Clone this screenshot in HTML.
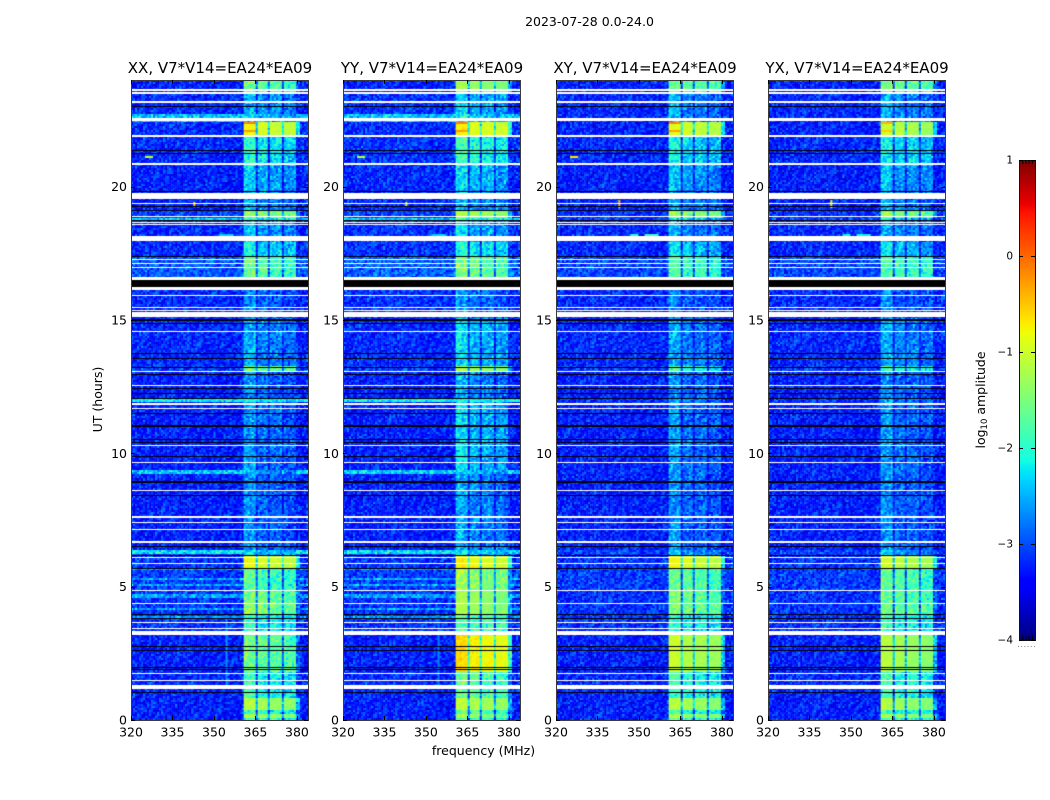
<!DOCTYPE html>
<html lang="en">
<head>
<meta charset="utf-8">
<title>2023-07-28 0.0-24.0</title>
<style>
html,body{margin:0;padding:0;background:#fff;}
#chart{position:relative;width:1050px;height:800px;overflow:hidden;background:#fff;font-family:"DejaVu Sans","Liberation Sans",sans-serif;}
canvas{position:absolute;display:block;}
svg{position:absolute;left:0;top:0;}
svg text{font-family:"DejaVu Sans","Liberation Sans",sans-serif;fill:#000;}
</style>
</head>
<body>
<div id="chart">
<svg id="overlay" width="1050" height="800"></svg>
</div>
<script>
// ---- figure text and axis ticks ----
const figureTitle = "2023-07-28 0.0-24.0";
const panelTitles = ["XX, V7*V14=EA24*EA09","YY, V7*V14=EA24*EA09","XY, V7*V14=EA24*EA09","YX, V7*V14=EA24*EA09"];
const freqTicks = [320,335,350,365,380];
const utTicks = [0,5,10,15,20];
const colorTicks = [-4,-3,-2,-1,0,1];

// ---- UT (hours): top edge of each time segment, descending ----
const segmentTopUT = [24,23.55,22.76,22.58,22.46,21.9,20.81,19.88,19.13,18.86,18.75,17.96,17.4,16.61,16.13,15.04,13.31,13.05,12.04,11.89,9.38,9.23,6.41,6.23,6.15,5.7,4.88,4.39,4.01,3.19,1.8,1.05,0.83,0.38,0.26,0.11];

// ---- log10 amplitude outside the band, per segment ----
const bgXX = [-3.25,-3.2,-2.4,-2.4,-3.2,-3.2,-3.25,-3.25,-3.1,-2.35,-3.2,-3.2,-2.95,-3.2,-3.2,-3.2,-3.1,-3.25,-2.2,-3.25,-2.4,-3.25,-2.25,-3.15,-3.15,-3.1,-3.15,-3.15,-3.15,-3.25,-3.2,-3.25,-3.25,-3.25,-3.25,-3.25];
const bgYY = [-3.25,-3.15,-2.4,-2.4,-3.2,-3.15,-3.2,-3.2,-3.1,-2.35,-3.15,-3.15,-2.9,-3.2,-3.15,-3.2,-3.1,-3.25,-2.15,-3.25,-2.35,-3.25,-2.25,-3.15,-3.15,-3.1,-3.15,-3.15,-3.15,-3.25,-3.2,-3.25,-3.25,-3.25,-3.25,-3.25];
const bgXY = [-3.25,-3.2,-3.2,-3.2,-3.25,-3.2,-3.25,-3.25,-3.15,-3.05,-3.2,-3.2,-3.05,-3.2,-3.2,-3.2,-3.1,-3.25,-3.15,-3.25,-3.2,-3.25,-3.05,-3.15,-3.15,-3.1,-3.15,-3.15,-3.15,-3.25,-3.2,-3.25,-3.25,-3.25,-3.25,-3.25];
const bgYX = [-3.25,-3.2,-3.2,-3.2,-3.25,-3.2,-3.25,-3.25,-3.15,-3.05,-3.2,-3.2,-3.05,-3.2,-3.2,-3.2,-3.1,-3.25,-3.15,-3.25,-3.2,-3.25,-3.05,-3.15,-3.15,-3.1,-3.15,-3.15,-3.15,-3.25,-3.2,-3.25,-3.25,-3.25,-3.25,-3.25];

// ---- log10 amplitude inside the 360-380 MHz band, per segment ----
const bandXX = [-1.7,-2.55,-2.4,-2.4,-0.95,-2.1,-2.45,-2.6,-1.45,-2,-2.5,-2.2,-1.75,-3.2,-2.8,-2.6,-1.6,-2.75,-2.1,-2.7,-2.5,-2.75,-2.3,-2.3,-0.95,-1.8,-1.6,-1.5,-2,-1.65,-2,-1.9,-1.25,-1.9,-1.3,-1.9];
const bandYY = [-1.35,-2.4,-2.25,-2.25,-0.85,-1.9,-2.35,-2.5,-1.25,-1.9,-2.4,-2.1,-1.6,-3.2,-2.7,-2.35,-1.3,-2.6,-2.05,-2.35,-2.4,-2.6,-2.3,-2.3,-0.85,-1.4,-1.35,-1.3,-1.8,-0.72,-1.75,-1.7,-1.2,-1.8,-1.4,-1.9];
const bandXY = [-1.65,-2.6,-2.55,-2.55,-1,-2.2,-2.5,-2.65,-1.4,-2.3,-2.6,-2.3,-1.85,-3.2,-2.8,-2.65,-1.9,-2.75,-2.65,-2.7,-2.7,-2.75,-2.5,-2.5,-0.95,-1.7,-1.6,-1.55,-2,-1.15,-1.9,-2,-1.25,-1.9,-1.3,-1.9];
const bandYX = [-1.65,-2.6,-2.55,-2.55,-1.15,-2.2,-2.5,-2.65,-1.5,-2.3,-2.6,-2.35,-1.85,-3.2,-2.8,-2.6,-1.9,-2.75,-2.65,-2.7,-2.7,-2.75,-2.5,-2.5,-1.1,-1.75,-1.7,-1.65,-1.95,-1.25,-1.9,-2,-1.3,-1.9,-1.3,-1.9];

// ---- the four sub-bands (MHz) and their relative amplitude ----
const subBandStart = [360.4,365.5,370.4,375.4];
const subBandEnd = [364.8,369.8,374.8,379.7];
const subBandStrong = [0.12,0,-0.08,-0.15];
const subBandWeak = [0.1,-0.12,-0.15,-0.25];

// ---- flagged (blank, drawn white) UT ranges [hi, lo] ----
const blankRanges = [[23.644,23.606],[23.561,23.475],[23.194,23.156],[22.58,22.463],[21.919,21.881],[20.869,20.831],[19.744,19.538],[19.388,19.35],[18.9,18.863],[18.675,18.638],[18.6,18.563],[18.15,17.963],[17.288,17.25],[17.138,17.1],[16.988,16.95],[16.613,16.5],[16.238,16.125],[15.938,15.9],[15.488,15.45],[15.375,15.338],[15.3,15.113],[14.588,14.55],[13.106,13.05],[12.563,12.525],[11.888,11.831],[11.7,11.663],[10.313,10.275],[9.675,9.638],[8.625,8.588],[7.65,7.575],[7.425,7.388],[7.163,7.125],[6.713,6.656],[6.113,6.075],[5.888,5.85],[4.875,4.838],[4.388,4.35],[3.675,3.638],[3.45,3.413],[3.338,3.188],[1.763,1.725],[1.5,1.463],[1.313,1.163]];

// ---- zero-amplitude (drawn black) UT ranges [hi, lo] ----
const zeroRanges = [[23.03,22.99],[21.38,21.34],[21.27,21.23],[19.856,19.8],[19.28,19.24],[19.11,19.07],[18.75,18.71],[17.4,17.36],[16.5,16.238],[15.02,14.98],[14.89,14.85],[13.76,13.73],[13.58,13.54],[13.24,13.2],[12.98,12.94],[12.45,12.41],[12.26,12.23],[12.08,12.04],[11.51,11.48],[11.063,11.006],[10.54,10.5],[10.43,10.39],[9.9,9.844],[8.963,8.906],[8.44,8.4],[6.53,6.49],[6.19,6.15],[5.7,5.66],[3.98,3.94],[3.83,3.79],[2.78,2.74],[2.64,2.61],[1.99,1.95],[1.91,1.88],[1.05,1.01]];

// ---- hot spots: panel, UT hi, UT lo, MHz lo, MHz hi, log10 amplitude ----
const hotPanel = [0,0,1,1,2,2,3,3,0,1,2,0,1,2,3,0,1,0,1,2,2,3,3];
const hotUtHi = [22.46,22.16,22.46,22.16,22.46,22.16,22.46,22.16,21.12,21.12,21.12,18.2,18.2,18.2,18.2,19.45,19.45,4,4,19.5,18.2,19.5,18.2];
const hotUtLo = [22.33,22.03,22.33,22.03,22.33,22.03,22.36,22.05,21.08,21.08,21.08,18.14,18.14,18.14,18.14,19.25,19.25,1.2,1.2,19.2,18.14,19.2,18.14];
const hotFreqLo = [360.4,360.4,360.4,360.4,360.4,360.4,360.4,360.4,325,325,325,352,352,352,352,342.7,342.7,354.3,354.3,342.7,347,342.7,347];
const hotFreqHi = [364.8,364.8,364.8,364.8,364.8,364.8,364.8,364.8,328,328,328,357,357,357,357,343.1,343.1,355,355,343.1,350,343.1,350];
const hotValue = [-0.15,-0.3,-0.15,-0.3,-0.15,-0.3,-0.4,-0.55,-1.1,-1.1,-0.7,-2.35,-2.35,-1.95,-2.15,-0.6,-1,-2.65,-2.75,-0.45,-2.05,-0.6,-2.2];

// ---- faint whole-row lines below 360 MHz (YY and XX early hours) ----
const faintRowsUT = [5.63,5.29,5.06,4.72,4.58,4.13,3.89];
const faintRowValue = -2.6;

// ---- fixed speckle tile (digit 0-9 = low to high residual) ----
const speckleTile = [
"73916048257136904825176392084",
"20584719362058147396025841793",
"96137052841697203584916270358",
"41760395827401659283740165928",
"85203916472859031647285903164",
"17648205936174820593617482059",
"59032781460592378146059237814",
"36871490253687149025368714902",
"02459637180245963718024596371",
"68120574936812057493681205749",
"24793186052479318605247931860",
"91340862579134086257913408625",
"47586013294758601329475860132"];
const speckleSpread = 0.52;

// ---- colour scale ----
const colorMin = -4;
const colorMax = 1;

// ---- layout ----
const plotW = 177, plotH = 640, plotTop = 80;
const plotLeftFirst = 131, plotStep = 212.33;
const cellCountX = 88, cellCountY = 320;
const freqMin = 320, freqMax = 384, utMin = 0, utMax = 24;

const bgByPanel = [bgXX,bgYY,bgXY,bgYX];
const bandByPanel = [bandXX,bandYY,bandXY,bandYX];

function xScale(mhz){ return (mhz-freqMin)/(freqMax-freqMin)*plotW; }
function yScale(ut){ return (utMax-ut)/(utMax-utMin)*plotH; }

function jet(t){
  t = Math.max(0,Math.min(1,t));
  function ramp(pts){
    for(let i=1;i<pts.length;i++){
      if(t<=pts[i][0]){
        const a=pts[i-1], b=pts[i];
        return a[1]+(b[1]-a[1])*(t-a[0])/(b[0]-a[0]);
      }
    }
    return pts[pts.length-1][1];
  }
  const r = ramp([[0,0],[0.35,0],[0.66,1],[0.89,1],[1,0.5]]);
  const g = ramp([[0,0],[0.125,0],[0.375,1],[0.64,1],[0.91,0],[1,0]]);
  const b = ramp([[0,0.5],[0.11,1],[0.34,1],[0.65,0],[1,0]]);
  return "rgb("+Math.round(r*255)+","+Math.round(g*255)+","+Math.round(b*255)+")";
}
function colorOf(v){ return jet((v-colorMin)/(colorMax-colorMin)); }

function segmentIndex(ut){
  let idx = 0;
  for(let i=0;i<segmentTopUT.length;i++){ if(ut<=segmentTopUT[i]) idx=i; }
  return idx;
}
function speckle(row,col,panel){
  const line = speckleTile[(row+panel*5)%speckleTile.length];
  const a = +line[(col+row*7+panel*11)%line.length];
  const b = +speckleTile[(row*3+col)%speckleTile.length][(col*2+row+panel)%29];
  return ((a+b)/9-1)*speckleSpread;
}
function cellValue(panel,row,col,ut,mhz){
  const s = segmentIndex(ut);
  const bg = bgByPanel[panel][s];
  const hi = bandByPanel[panel][s];
  let v = bg;
  let noiseScale = 1;
  if(mhz>=subBandStart[0] && mhz<=subBandEnd[3]+1.2){
    let inside = -1;
    for(let g=0;g<4;g++){ if(mhz>=subBandStart[g] && mhz<=subBandEnd[g]) inside=g; }
    const off = hi < -1.85 ? subBandWeak : subBandStrong;
    if(inside>=0){
      v = hi + off[inside];
      if(hi > -1.4){ noiseScale = 0.35; }
    }
    else { v = Math.max(bg, hi-1.2); }
  } else if(panel<2 && ut<6 && ut>3.7){
    for(let i=0;i<faintRowsUT.length;i++){
      if(Math.abs(ut-faintRowsUT[i])<0.04){ v = faintRowValue; }
    }
  }
  v += speckle(row,col,panel)*noiseScale;
  for(let i=0;i<hotPanel.length;i++){
    if(hotPanel[i]===panel && ut<=hotUtHi[i] && ut>=hotUtLo[i] && mhz>=hotFreqLo[i] && mhz<=hotFreqHi[i]){
      v = hotValue[i] + speckle(row,col,panel)*0.15;
    }
  }
  return v;
}

const chart = document.getElementById("chart");
const overlay = document.getElementById("overlay");
const NS = "http://www.w3.org/2000/svg";

function svgEl(tag,attrs){
  const el = document.createElementNS(NS,tag);
  for(const k in attrs){ el.setAttribute(k,attrs[k]); }
  overlay.appendChild(el);
  return el;
}
function svgText(str,x,y,size,anchor,rot){
  const el = svgEl("text",{x:x,y:y,"font-size":size,"text-anchor":anchor});
  if(rot){ el.setAttribute("transform","rotate(-90 "+x+" "+y+")"); }
  el.textContent = str;
  return el;
}
function minusLabel(v){ return v<0 ? "\u2212"+Math.abs(v) : String(v); }

panelTitles.forEach(function(title,p){
  const left = Math.round(plotLeftFirst + plotStep*p);

  const cv = document.createElement("canvas");
  
  
  cv.width = plotW; cv.height = plotH;
  cv.style.left = left+"px"; cv.style.top = plotTop+"px";
  cv.style.width = plotW+"px"; cv.style.height = plotH+"px";
  chart.insertBefore(cv, overlay);
  const ctx = cv.getContext("2d");

  const cw = plotW/cellCountX, ch = plotH/cellCountY;
  for(let r=0;r<cellCountY;r++){
    const ut = utMax-(r+0.5)/cellCountY*(utMax-utMin);
    for(let c=0;c<cellCountX;c++){
      const mhz = freqMin+(c+0.5)/cellCountX*(freqMax-freqMin);
      ctx.fillStyle = colorOf(cellValue(p,r,c,ut,mhz));
      ctx.fillRect(c*cw,r*ch,cw+0.5,ch+0.5);
    }
  }
  function flag(range,color){
    const y0 = Math.round(yScale(range[0]));
    const y1 = Math.max(y0+1, Math.round(yScale(range[1])));
    ctx.fillStyle = color;
    ctx.fillRect(0,y0,plotW,y1-y0);
  }
  blankRanges.forEach(function(rg){ flag(rg,"#fff"); });
  zeroRanges.forEach(function(rg){ flag(rg,"#000"); });

  const frame = svgEl("rect",{x:left+0.5,y:plotTop+0.5,width:plotW,height:plotH,fill:"none",stroke:"#3a3a3a","stroke-width":1});
  
  

  const ttl = svgText(title,left+plotW/2+0.5,73,15,"middle");
  
  

  freqTicks.forEach(function(f){
    const x = left+Math.round(xScale(f))+0.5;
    const t1 = svgEl("line",{x1:x,x2:x,y1:plotTop,y2:plotTop+4,stroke:"#000","stroke-width":1});
    
    
    const t2 = svgEl("line",{x1:x,x2:x,y1:plotTop+plotH-4,y2:plotTop+plotH,stroke:"#000","stroke-width":1});
    
    
    const lb = svgText(String(f),left+xScale(f),plotTop+plotH+16.5,12.5,"middle");
    
    
  });
  utTicks.forEach(function(u){
    const y = plotTop+Math.round(yScale(u))+0.5;
    const t1 = svgEl("line",{x1:left,x2:left+4,y1:y,y2:y,stroke:"#000","stroke-width":1});
    
    
    const t2 = svgEl("line",{x1:left+plotW-4,x2:left+plotW,y1:y,y2:y,stroke:"#000","stroke-width":1});
    
    
    const lb = svgText(String(u),left-4,plotTop+yScale(u)+4.5,12.5,"end");
    
    
  });
});

// figure-level labels
const figTitle = svgText(figureTitle,589.5,26,12.5,"middle");



const xTitle = svgText("frequency (MHz)",483.5,755,12.5,"middle");



const yTitle = svgText("UT (hours)",102,399.5,12.5,"middle",true);



// colour bar
const cbLeft = 1019, cbTop = 160, cbW = 16, cbH = 480;
const cb = document.createElement("canvas");


cb.width = cbW; cb.height = cbH;
cb.style.left = cbLeft+"px"; cb.style.top = cbTop+"px";
chart.insertBefore(cb, overlay);
const cbx = cb.getContext("2d");
for(let y=0;y<cbH;y++){
  cbx.fillStyle = jet(1-(y+0.5)/cbH);
  cbx.fillRect(0,y,cbW,1);
}
function cbScale(v){ return (colorMax-v)/(colorMax-colorMin)*cbH; }

const cbFrame = svgEl("rect",{x:cbLeft+0.5,y:cbTop+0.5,width:cbW,height:cbH,fill:"none",stroke:"#111","stroke-width":1});



colorTicks.forEach(function(v){
  const y = cbTop+Math.round(cbScale(v))+0.5;
  const tl = svgEl("line",{x1:cbLeft,x2:cbLeft+4,y1:y,y2:y,stroke:"#000","stroke-width":1});
  
  
  const tr = svgEl("line",{x1:cbLeft+cbW-4,x2:cbLeft+cbW,y1:y,y2:y,stroke:"#000","stroke-width":1});
  
  
  const lb = svgText(minusLabel(v),1013,cbTop+cbScale(v)+3.5,10.5,"end");
  
  
});
[1,2,3,4].forEach(function(k){
  const x = cbLeft+k*3.2+0.5;
  const a = svgEl("line",{x1:x,x2:x,y1:cbTop,y2:cbTop+4,stroke:"#000","stroke-width":1});
  
  
  const b = svgEl("line",{x1:x,x2:x,y1:cbTop+cbH-4,y2:cbTop+cbH,stroke:"#000","stroke-width":1});
  
  
});
[0,1,2,3,4,5].forEach(function(k){
  const d = svgEl("rect",{x:cbLeft-1+k*3.2,y:646,width:1,height:1,fill:"#888"});
  
  
});

const cbLabel = svgEl("text",{x:985,y:400,"font-size":12.5,"text-anchor":"middle",transform:"rotate(-90 985 400)"});


cbLabel.appendChild(document.createTextNode("log"));
const sub = document.createElementNS(NS,"tspan");
sub.setAttribute("font-size","8.5");
sub.setAttribute("dy","2");
sub.textContent = "10";
cbLabel.appendChild(sub);
const rest = document.createElementNS(NS,"tspan");
rest.setAttribute("dy","-2");
rest.textContent = " amplitude";
cbLabel.appendChild(rest);
</script>
</body>
</html>
